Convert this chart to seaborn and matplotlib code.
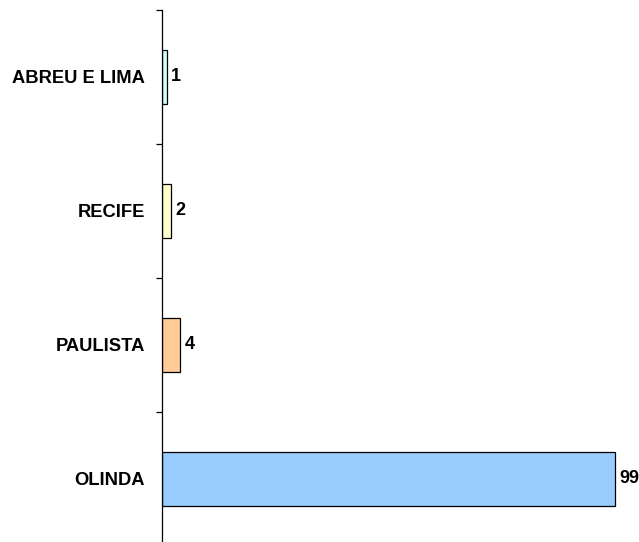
import matplotlib
matplotlib.use("Agg")
import matplotlib.pyplot as plt
import seaborn as sns
import pandas as pd
from matplotlib.ticker import FixedLocator, NullFormatter, FixedFormatter

categories = ["ABREU E LIMA", "RECIFE", "PAULISTA", "OLINDA"]
values = [1, 2, 4, 99]
colors = ["#CCFFFF", "#FFFFCC", "#FFCC99", "#99CCFF"]

sns.set_theme(style="white")
plt.rcParams['font.family'] = ['Liberation Sans', 'DejaVu Sans']

df = pd.DataFrame({"cat": categories, "val": values})

fig = plt.figure(figsize=(6.39, 5.42), dpi=100)
W, H = 639, 542
left, right, top, bottom = 162, 639, 10, 546
ax = fig.add_axes([left / W, 1 - bottom / H, (right - left) / W, (bottom - top) / H])

sns.barplot(data=df, y="cat", x="val", hue="cat", palette=colors, order=categories,
            hue_order=categories, orient="h", width=0.41, edgecolor="black",
            linewidth=0.9, legend=False, ax=ax, saturation=1)

ax.set_xlim(0, 99 * (right - left) / 453)
ax.set_ylim(3.5, -0.5)
ax.set_xlabel("")
ax.set_ylabel("")
ax.set_xticks([])

for s in ["top", "right", "bottom"]:
    ax.spines[s].set_visible(False)
ax.spines["left"].set_color("black")
ax.spines["left"].set_linewidth(0.9)

ax.yaxis.set_major_locator(FixedLocator([-0.5, 0.5, 1.5, 2.5, 3.5]))
ax.yaxis.set_major_formatter(NullFormatter())
ax.yaxis.set_minor_locator(FixedLocator([0, 1, 2, 3]))
ax.yaxis.set_minor_formatter(FixedFormatter(categories))
ax.tick_params(axis="y", which="major", direction="out", length=4, width=0.9, color="black", left=True)
ax.tick_params(axis="y", which="minor", length=0, pad=12.5, labelsize=13.2, left=True)
for lbl in ax.get_yticklabels(minor=True):
    lbl.set_fontweight("bold")
    lbl.set_color("black")

for c in ax.containers:
    ax.bar_label(c, fmt="%d", padding=3, fontsize=13, fontweight="bold", color="black")

fig.savefig("out.png", dpi=100)
